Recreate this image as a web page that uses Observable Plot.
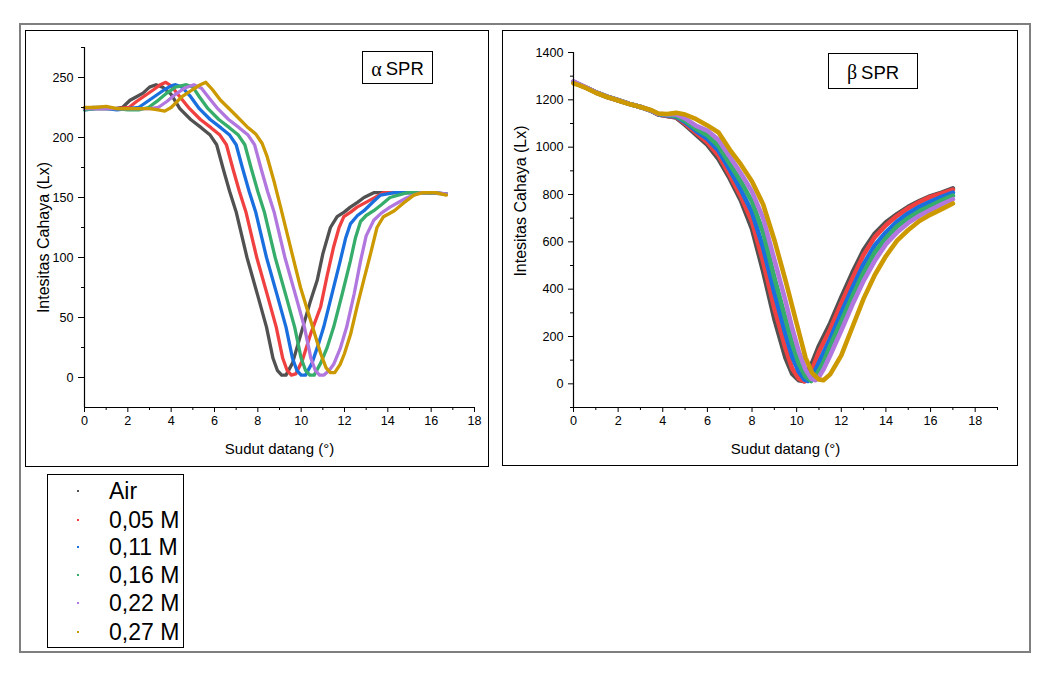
<!DOCTYPE html>
<html><head><meta charset="utf-8">
<script src="https://cdn.jsdelivr.net/npm/d3@7"></script>
<script src="https://cdn.jsdelivr.net/npm/@observablehq/plot@0.6"></script>
<style>
body{margin:0;background:#fff;font-family:"Liberation Sans",Arial,sans-serif;}
#root{position:relative;width:1046px;height:674px;overflow:hidden;}
.abs{position:absolute;box-sizing:border-box;}
.frame{border:1px solid #000;}
.tag{border:1px solid #000;display:flex;align-items:center;justify-content:center;font-size:18.5px;color:#000;padding-top:3px;}
.tag .g{font-family:"Liberation Serif","DejaVu Serif",serif;font-size:20px;margin-right:4px;}
.leg{position:absolute;left:61px;font-size:23px;line-height:23px;color:#000;}
.dot{position:absolute;left:29px;width:2px;height:2px;}
</style></head><body><div id="root"></div>
<script>
// ---- series ----
const seriesNames = ["Air", "0,05 M", "0,11 M", "0,16 M", "0,22 M", "0,27 M"];
const seriesColors = ["#515151", "#F14040", "#1A6FDF", "#37AD6B", "#B177DE", "#CC9900"];

// ---- alpha SPR (x: sudut datang, y: intensitas) ----
const alphaAir = [[0,224],[0.4,225],[0.9,225],[1.4,224],[1.75,225],[2.1,231],[2.4,234],[2.7,237],[3.0,242],[3.3,244],[3.6,242],[4.0,236],[4.4,224],[4.9,215],[5.4,208],[5.8,202],[6.1,194],[6.4,174],[6.7,155],[7.0,138],[7.5,100],[8.0,68],[8.4,42],[8.7,16],[8.9,6],[9.1,2],[9.3,2],[9.6,12],[10.0,37],[10.4,62],[10.74,81],[11.0,103],[11.35,125],[11.66,134],[12.0,138],[12.27,142],[12.6,146],[12.9,150],[13.35,154],[14.0,154],[15.0,154],[16.0,154],[16.7,153]];
const alpha005 = [[0,224],[0.5,224],[1.0,224],[1.5,224],[2.05,225],[2.4,230],[2.8,235],[3.2,240],[3.5,244],[3.75,246],[4.0,243],[4.4,234],[4.85,224],[5.35,215],[5.85,208],[6.25,202],[6.55,194],[6.85,174],[7.15,155],[7.45,138],[7.95,100],[8.45,68],[8.85,42],[9.15,16],[9.35,6],[9.55,2],[9.75,3],[10.05,14],[10.45,37],[10.9,59],[11.2,85],[11.5,109],[11.75,125],[11.97,134],[12.3,138],[12.58,142],[13.2,148],[13.8,154],[14.5,154],[15.5,154],[16.7,153]];
const alpha011 = [[0,223],[0.5,224],[1.0,224],[1.5,223],[2.0,224],[2.5,225],[2.9,230],[3.3,235],[3.7,240],[4.0,243],[4.2,244],[4.5,242],[4.9,234],[5.3,224],[5.8,215],[6.3,208],[6.7,202],[7.0,194],[7.3,174],[7.6,155],[7.9,138],[8.4,100],[8.9,68],[9.3,42],[9.6,16],[9.8,6],[10.0,2],[10.2,2],[10.5,12],[10.8,28],[11.04,42],[11.4,68],[11.8,97],[12.05,116],[12.27,128],[12.6,135],[12.9,139],[13.3,146],[13.66,152],[14.3,154],[15.0,154],[16.0,154],[16.7,153]];
const alpha016 = [[0,223],[0.5,224],[1.0,224],[1.5,224],[2.0,223],[2.5,223],[2.95,225],[3.4,231],[3.8,237],[4.2,242],[4.7,244],[5.0,242],[5.3,234],[5.7,224],[6.2,215],[6.7,208],[7.1,202],[7.4,194],[7.7,174],[8.0,155],[8.3,138],[8.8,100],[9.3,68],[9.7,42],[10.0,16],[10.2,6],[10.4,2],[10.6,2],[10.9,12],[11.2,25],[11.5,42],[11.9,70],[12.27,97],[12.5,116],[12.74,130],[13.0,135],[13.35,139],[13.7,144],[14.1,150],[14.9,154],[15.5,154],[16.7,153]];
const alpha022 = [[0,224],[0.5,224],[1.0,224],[1.5,224],[2.0,224],[2.5,224],[3.0,224],[3.4,225],[3.8,230],[4.2,236],[4.6,241],[5.05,244],[5.4,241],[5.75,233],[6.15,224],[6.65,215],[7.15,208],[7.55,202],[7.85,194],[8.15,174],[8.45,155],[8.75,138],[9.25,100],[9.75,68],[10.15,42],[10.45,16],[10.65,6],[10.85,2],[11.05,2],[11.3,6],[11.5,11],[11.8,24],[12.1,42],[12.45,70],[12.74,97],[13.0,118],[13.35,131],[13.7,137],[14.1,142],[14.5,146],[14.9,150],[15.5,154],[16.0,154],[16.7,153]];
const alpha027 = [[0,225],[0.5,225],[1.0,226],[1.5,224],[2.0,224],[2.5,224],[3.0,224],[3.4,223],[3.7,222],[4.0,225],[4.5,234],[5.0,240],[5.35,244],[5.6,246],[5.9,240],[6.28,231],[6.9,220],[7.5,209],[7.9,203],[8.2,195],[8.43,184],[8.74,164],[9.05,142],[9.5,109],[9.97,75],[10.43,48],[10.9,20],[11.15,8],[11.35,4],[11.55,4],[11.8,11],[12.0,20],[12.28,36],[12.58,59],[12.9,82],[13.2,103],[13.5,125],[13.8,134],[14.3,139],[14.7,145],[15.2,152],[15.6,154],[16.2,154],[16.7,152]];

// ---- beta SPR ----
const betaAir = [[0,1275],[0.3,1262],[0.6,1250],[1.0,1232],[1.5,1213],[2.0,1198],[2.5,1183],[3.0,1170],[3.5,1153],[3.8,1138],[4.2,1132],[4.6,1125],[5.0,1095],[5.5,1052],[6.0,1010],[6.5,950],[7.0,868],[7.5,775],[8.0,655],[8.5,475],[9.0,275],[9.5,110],[9.8,42],[10.1,15],[10.3,12],[10.7,90],[11.0,160],[11.5,255],[12.0,365],[12.5,470],[13.0,565],[13.5,635],[14.0,682],[14.5,717],[15.0,748],[15.5,772],[16.0,793],[16.5,808],[17.0,826]];
const beta005 = [[0,1275],[0.3,1262],[0.6,1250],[1.0,1232],[1.5,1213],[2.0,1198],[2.5,1183],[3.0,1170],[3.5,1153],[3.8,1138],[4.2,1132],[4.6,1127],[5.0,1100],[5.5,1060],[6.0,1020],[6.5,965],[7.0,882],[7.5,792],[8.0,685],[8.5,515],[9.0,320],[9.5,150],[9.8,65],[10.1,22],[10.35,10],[10.55,20],[10.75,75],[11.0,135],[11.5,230],[12.0,340],[12.5,445],[13.0,545],[13.5,620],[14.0,670],[14.5,710],[15.0,742],[15.5,768],[16.0,790],[16.5,805],[17.0,820]];
const beta011 = [[0,1275],[0.3,1262],[0.6,1250],[1.0,1232],[1.5,1213],[2.0,1198],[2.5,1183],[3.0,1170],[3.5,1153],[3.8,1139],[4.2,1134],[4.6,1129],[5.0,1106],[5.5,1068],[6.0,1035],[6.5,985],[7.0,905],[7.5,820],[8.0,725],[8.5,575],[9.0,385],[9.5,210],[9.8,115],[10.1,50],[10.35,18],[10.5,12],[10.7,30],[10.85,60],[11.1,110],[11.5,190],[12.0,300],[12.5,405],[13.0,505],[13.5,585],[14.0,640],[14.5,685],[15.0,720],[15.5,748],[16.0,770],[16.5,790],[17.0,808]];
const beta016 = [[0,1275],[0.3,1262],[0.6,1250],[1.0,1232],[1.5,1213],[2.0,1198],[2.5,1183],[3.0,1170],[3.5,1153],[3.8,1140],[4.2,1136],[4.6,1132],[5.0,1112],[5.5,1077],[6.0,1050],[6.5,1005],[7.0,930],[7.5,855],[8.0,770],[8.5,640],[9.0,450],[9.5,275],[9.8,170],[10.1,85],[10.4,30],[10.65,12],[10.9,40],[11.2,90],[11.5,160],[12.0,265],[12.5,370],[13.0,470],[13.5,555],[14.0,615],[14.5,665],[15.0,700],[15.5,730],[16.0,752],[16.5,775],[17.0,795]];
const beta022 = [[0,1278],[0.3,1264],[0.6,1251],[1.0,1232],[1.5,1213],[2.0,1198],[2.5,1183],[3.0,1170],[3.5,1154],[3.8,1141],[4.2,1138],[4.6,1138],[5.0,1122],[5.5,1090],[6.0,1070],[6.5,1030],[7.0,960],[7.5,890],[8.0,812],[8.5,700],[9.0,525],[9.5,350],[9.8,235],[10.1,135],[10.4,60],[10.65,22],[10.85,15],[11.0,30],[11.2,60],[11.5,120],[12.0,225],[12.5,335],[13.0,435],[13.5,520],[14.0,590],[14.5,640],[15.0,680],[15.5,710],[16.0,735],[16.5,758],[17.0,780]];
const beta027 = [[0,1270],[0.3,1260],[0.6,1248],[1.0,1230],[1.5,1212],[2.0,1197],[2.5,1182],[3.0,1170],[3.5,1156],[3.8,1142],[4.2,1140],[4.6,1145],[5.0,1138],[5.5,1118],[6.0,1092],[6.5,1062],[7.0,990],[7.5,927],[8.0,855],[8.5,758],[9.0,608],[9.5,437],[10.0,255],[10.4,110],[10.7,45],[11.0,18],[11.2,15],[11.5,40],[12.0,120],[12.5,240],[13.0,360],[13.5,460],[14.0,540],[14.5,605],[15.0,650],[15.5,688],[16.0,715],[16.5,738],[17.0,762]];

// ---- axes ----
const alphaXTicks = [0,2,4,6,8,10,12,14,16,18];
const alphaXMinor = [1,3,5,7,9,11,13,15,17];
const alphaYTicks = [0,50,100,150,200,250];
const alphaYMinor = [25,75,125,175,225,275];
const betaXTicks = [0,2,4,6,8,10,12,14,16,18];
const betaXMinor = [1,3,5,7,9,11,13,15,17,19];
const betaYTicks = [0,200,400,600,800,1000,1200,1400];
const betaYMinor = [-100,100,300,500,700,900,1100,1300];
const xTitle = "Sudut datang (°)";
const yTitle = "Intesitas Cahaya (Lx)";

const FONT = '"Liberation Sans", Arial, sans-serif';

function rows(list) {
  const out = [];
  list.forEach((arr, i) => arr.forEach(([x, y]) => out.push({s: seriesNames[i], x, y})));
  return out;
}

function panel(o) {
  const tf = d => String(d);
  const svg = Plot.plot({
    width: o.width, height: o.height,
    marginLeft: o.ml, marginRight: o.mr, marginTop: o.mt, marginBottom: o.mb,
    style: {fontFamily: FONT, fontSize: "12.6px", color: "#000", background: "transparent", overflow: "visible"},
    x: {domain: o.xDomain},
    y: {domain: o.yDomain},
    color: {domain: seriesNames, range: seriesColors},
    marks: [
      Plot.line(o.data, {x: "x", y: "y", z: "s", stroke: "s", strokeWidth: o.sw, strokeLinejoin: "round", strokeLinecap: "round"}),
      Plot.ruleX([o.xDomain[0]], {stroke: "#000", strokeWidth: 1.2}),
      Plot.ruleY([o.yDomain[0]], {stroke: "#000", strokeWidth: 1.2}),
      Plot.axisX({ticks: o.xTicks, tickSize: 5, tickPadding: 4, tickFormat: tf, label: null, stroke: "#000", fill: "#000", fontSize: 12.6, fontFamily: FONT}),
      Plot.axisX({ticks: o.xMinor, tickSize: 3, tickFormat: () => "", label: null, stroke: "#000"}),
      Plot.axisY({ticks: o.yTicks, tickSize: o.yts, tickPadding: 5, tickFormat: tf, label: null, stroke: "#000", fill: "#000", fontSize: 12.6, fontFamily: FONT}),
      Plot.axisY({ticks: o.yMinor, tickSize: 3, tickFormat: () => "", label: null, stroke: "#000"}),
      Plot.text([xTitle], {text: d => d, frameAnchor: "bottom", dy: 46, fontSize: 15, fontFamily: FONT, fill: "#000"}),
      Plot.text([yTitle], {text: d => d, frameAnchor: "left", textAnchor: "middle", dx: o.ytx, dy: o.yty, rotate: -90, fontSize: 16, fontFamily: FONT, fill: "#000"})
    ]
  });
  svg.querySelectorAll('[aria-label*="tick label"]').forEach(g => {
    g.style.fontSize = "12.6px";
    g.setAttribute("font-size", "12.6");
    g.querySelectorAll("text").forEach(t => { t.style.fontSize = "12.6px"; });
  });
  return svg;
}

const root = document.getElementById("root");
function div(cls, css, html) {
  const d = document.createElement("div");
  d.className = cls;
  d.style.cssText = css;
  if (html != null) d.innerHTML = html;
  root.appendChild(d);
  return d;
}

div("abs", "left:19px;top:23px;width:1012px;height:630px;border:2px solid #7f7f7f;");
div("abs frame", "left:25px;top:30px;width:464px;height:437px;");
div("abs frame", "left:502px;top:30px;width:516px;height:436px;");

const pa = panel({
  data: rows([alphaAir, alpha005, alpha011, alpha016, alpha022, alpha027]),
  width: 463, height: 436, ml: 59, mr: 14, mt: 17, mb: 59,
  xDomain: [0, 18], yDomain: [-25, 275],
  xTicks: alphaXTicks, xMinor: alphaXMinor, yTicks: alphaYTicks, yMinor: alphaYMinor,
  sw: 3.3, yts: 6, ytx: -41, yty: 10
});
pa.style.cssText += "position:absolute;left:25px;top:30px;";
root.appendChild(pa);

const pb = panel({
  data: rows([betaAir, beta005, beta011, beta016, beta022, beta027]),
  width: 515, height: 435, ml: 71, mr: 20, mt: 22, mb: 58,
  xDomain: [0, 19], yDomain: [-100, 1400],
  xTicks: betaXTicks, xMinor: betaXMinor, yTicks: betaYTicks, yMinor: betaYMinor,
  sw: 4.6, yts: 5, ytx: -53, yty: -29
});
pb.style.cssText += "position:absolute;left:502px;top:30px;";
root.appendChild(pb);

div("abs tag", "left:362px;top:51px;width:71px;height:33px;", '<span class="g">α</span>SPR');
div("abs tag", "left:828px;top:53px;width:90px;height:36px;", '<span class="g">β</span>SPR');

const leg = div("abs frame", "left:47px;top:474px;width:137px;height:174px;");
const centers = [17, 46, 73, 101, 129, 158];
seriesNames.forEach((n, i) => {
  const t = document.createElement("div");
  t.className = "leg";
  t.style.top = (centers[i] - 12) + "px";
  t.textContent = n;
  leg.appendChild(t);
  const d = document.createElement("div");
  d.className = "dot";
  d.style.top = (centers[i] - 2) + "px";
  d.style.background = seriesColors[i];
  leg.appendChild(d);
});
</script>
</body></html>
